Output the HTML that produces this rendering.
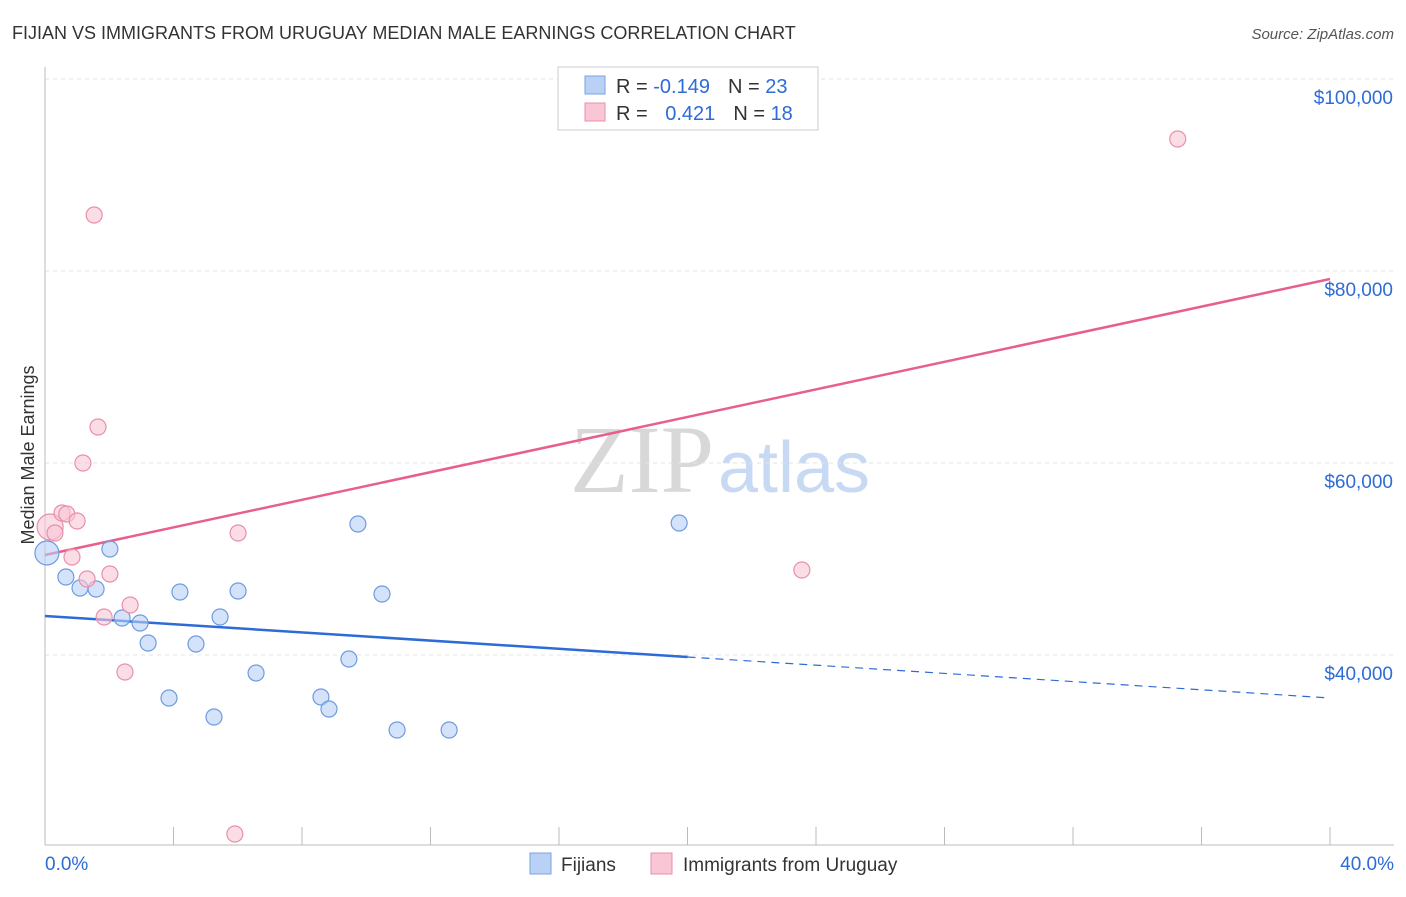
<!DOCTYPE html>
<html><head><meta charset="utf-8">
<style>
body{margin:0;background:#fff;font-family:"Liberation Sans",sans-serif;}
svg text{font-family:"Liberation Sans",sans-serif;}
</style></head>
<body>
<svg id="chart" width="1406" height="892" viewBox="0 0 1406 892" xmlns="http://www.w3.org/2000/svg">
<text x="12" y="39" font-size="18" fill="#333">FIJIAN VS IMMIGRANTS FROM URUGUAY MEDIAN MALE EARNINGS CORRELATION CHART</text>
<text x="1394" y="39" font-size="15" fill="#555" font-style="italic" text-anchor="end">Source: ZipAtlas.com</text>
<text x="720" y="492" font-size="96" text-anchor="middle"><tspan fill="#d8d8d8" font-family="Liberation Serif,serif">ZIP</tspan><tspan fill="#c8daf3" font-size="72" dx="4">atlas</tspan></text>
<g id="grid"></g>
<g id="axes"></g>
<text transform="translate(34,455) rotate(-90)" font-size="18" fill="#333" text-anchor="middle">Median Male Earnings</text>
<g id="lines"></g>
<g id="points"></g>
<g>
<rect x="558" y="67" width="260" height="63" fill="#fff" stroke="#ccc"/>
<rect x="585" y="76" width="20" height="18" fill="#b8d1f5" stroke="#7aa3e0"/>
<rect x="585" y="103" width="20" height="18" fill="#f9c6d5" stroke="#e98fab"/>
<text x="616" y="93" font-size="20" fill="#333">R = <tspan fill="#2d6bd6">-0.149</tspan><tspan dx="18">N = </tspan><tspan fill="#2d6bd6">23</tspan></text>
<text x="616" y="120" font-size="20" fill="#333">R = <tspan fill="#2d6bd6" dx="12">0.421</tspan><tspan dx="18">N = </tspan><tspan fill="#2d6bd6">18</tspan></text>
</g>
<g>
<rect x="530" y="853" width="21" height="21" fill="#b8d1f5" stroke="#7aa3e0"/>
<text x="561" y="871" font-size="19" fill="#333">Fijians</text>
<rect x="651" y="853" width="21" height="21" fill="#f9c6d5" stroke="#e98fab"/>
<text x="683" y="871" font-size="19" fill="#333">Immigrants from Uruguay</text>
</g>
</svg>
<script>
const yTicks=[40000,60000,80000,100000];
const yTickLabels=["$40,000","$60,000","$80,000","$100,000"];
const xTickLabels=["0.0%","40.0%"];
const fijiX=[0.06,0.65,1.09,1.59,2.02,2.40,2.96,3.21,3.86,4.20,4.70,5.26,5.45,6.01,6.57,8.59,8.84,9.46,9.74,10.49,10.96,12.58,19.74];
const fijiY=[50625,48125,46979,46875,51042,43854,43333,41250,35521,46563,41146,33542,43958,46667,38125,35625,34375,39583,53646,46354,32188,32188,53750];
const uruX=[0.16,0.31,0.53,0.68,0.84,1.00,1.31,1.53,1.65,1.18,1.84,2.02,2.49,2.65,5.91,6.01,23.56,35.26];
const uruY=[53333,52708,54792,54688,50208,53958,47917,85833,63750,60000,43958,48438,38229,45208,21354,52708,48854,93750];
const fijiTrend=[44063,35521];
const uruTrend=[50417,79167];
const NS="http://www.w3.org/2000/svg";
const X=v=>45+v/40*1285;
const Y=v=>655-(v-40000)*0.0096;
function mk(tag,attrs,parent){const e=document.createElementNS(NS,tag);for(const k in attrs)e.setAttribute(k,attrs[k]);document.getElementById(parent).appendChild(e);return e;}
yTicks.forEach((t,i)=>{
 const l=mk('line',{x1:45,x2:1394,y1:Y(t),y2:Y(t),stroke:'#e3e3e3','stroke-dasharray':'4,4'},'grid');
 
 
 const tx=mk('text',{x:1393,y:Y(t)+25,'font-size':19,fill:'#2d6bd6','text-anchor':'end'},'axes');
 tx.textContent=yTickLabels[i];
 
 
});
mk('line',{x1:45,x2:45,y1:67,y2:845,stroke:'#bbb'},'axes');
mk('line',{x1:45,x2:1394,y1:845,y2:845,stroke:'#bbb'},'axes');
for(let i=1;i<=10;i++){const t=mk('line',{x1:X(i*4),x2:X(i*4),y1:827,y2:845,stroke:'#bbb'},'axes');
 
 }
const xl0=mk('text',{x:45,y:870,'font-size':19,fill:'#2d6bd6'},'axes');xl0.textContent=xTickLabels[0];


const xl1=mk('text',{x:1394,y:870,'font-size':19,fill:'#2d6bd6','text-anchor':'end'},'axes');xl1.textContent=xTickLabels[1];


const fy=x=>fijiTrend[0]+(fijiTrend[1]-fijiTrend[0])*x/40;
const b1=mk('line',{x1:X(0),y1:Y(fy(0)),x2:X(20),y2:Y(fy(20)),stroke:'#2d6bd6','stroke-width':2.5},'lines');


const b2=mk('line',{x1:X(20),y1:Y(fy(20)),x2:X(40),y2:Y(fy(40)),stroke:'#2d6bd6','stroke-width':1.2,'stroke-dasharray':'8,6'},'lines');


const p1=mk('line',{x1:X(0),y1:Y(uruTrend[0]),x2:X(40),y2:Y(uruTrend[1]),stroke:'#e8608a','stroke-width':2.5},'lines');


fijiX.forEach((x,i)=>{const c=mk('circle',{cx:X(x),cy:Y(fijiY[i]),r:i==0?12:8,fill:'rgba(184,209,245,0.6)',stroke:'#6e9be0','stroke-width':1.2},'points');
 
 });
uruX.forEach((x,i)=>{const c=mk('circle',{cx:X(x),cy:Y(uruY[i]),r:i==0?13:8,fill:'rgba(249,198,213,0.6)',stroke:'#e98fab','stroke-width':1.2},'points');
 
 });
</script>
</body></html>
